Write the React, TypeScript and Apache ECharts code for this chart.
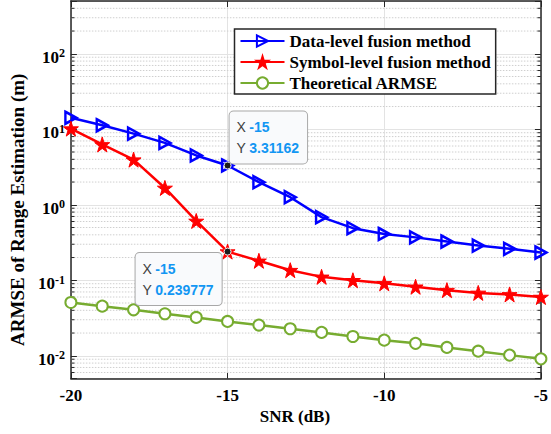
import React, { useEffect, useRef } from 'react';
import * as echarts from 'echarts';

const snr = [-20, -19, -18, -17, -16, -15, -14, -13, -12, -11, -10, -9, -8, -7, -6, -5];
const dataLevel = [14.2, 11.3, 8.75, 6.6, 4.5, 3.31162, 1.99, 1.26, 0.685, 0.49, 0.41, 0.37, 0.326, 0.288, 0.261, 0.233];
const symbolLevel = [10.2, 6.3, 3.96, 1.67, 0.61, 0.239777, 0.181, 0.136, 0.111, 0.1, 0.091, 0.082, 0.074, 0.068, 0.065, 0.06];
const theoretical = [0.0508, 0.0454, 0.0406, 0.036, 0.0322, 0.0285, 0.0255, 0.0228, 0.0204, 0.018, 0.0161, 0.0146, 0.0129, 0.0115, 0.0102, 0.0091];
const seriesNames = ['Data-level fusion method', 'Symbol-level fusion method', 'Theoretical ARMSE'];
const xTicks = { min: -20, max: -5, interval: 5 };
const yRange = { min: 0.005, max: 500 };
const minorTicks = [
  0.006, 0.007, 0.008, 0.009,
  0.02, 0.03, 0.04, 0.05, 0.06, 0.07, 0.08, 0.09,
  0.2, 0.3, 0.4, 0.5, 0.6, 0.7, 0.8, 0.9,
  2, 3, 4, 5, 6, 7, 8, 9,
  20, 30, 40, 50, 60, 70, 80, 90,
  200, 300, 400,
];
const tipIndex = 5;

const SERIF = "'Liberation Serif', 'Times New Roman', serif";
const SANS = "'Liberation Sans', Arial, sans-serif";
const AX = '#262626';
const TRI = 'path://M0,0L10,6L0,12Z';
const STAR = 'path://M50,0L61.23,34.55L97.55,34.55L68.17,55.9L79.39,90.45L50,69.1L20.61,90.45L31.83,55.9L2.45,34.55L38.77,34.55Z';

function tipLabel(x: number, y: number, pos: number[]) {
  return {
    show: true,
    position: pos,
    align: 'left',
    verticalAlign: 'top',
    formatter: `{k|X} {v|${x}}\n{k|Y} {v|${y}}`,
    backgroundColor: '#F9FAFC',
    borderColor: '#A8A8A8',
    borderWidth: 1,
    borderRadius: 4,
    padding: [5, 8, 5, 7],
    rich: {
      k: { fontFamily: SANS, fontSize: 14, color: '#404040', lineHeight: 21 },
      v: { fontFamily: SANS, fontSize: 14, fontWeight: 'bold', color: '#1296F3', lineHeight: 21 },
    },
  };
}

export default function App() {
  const ref = useRef<HTMLDivElement>(null);
  useEffect(() => {
    document.body.style.margin = '0';
    const chart = echarts.init(ref.current!, null, { renderer: 'svg' });
    const axisLabelY = {
      margin: 6,
      padding: [7, 0, 0, 0],
      formatter: (v: number) => {
        const l = Math.log10(v);
        const e = Math.round(l);
        if (Math.abs(l - e) > 1e-6) return '';
        return `{b|10}{s|${e}}`;
      },
      rich: {
        b: { fontFamily: SERIF, fontWeight: 'bold', fontSize: 17, color: '#000', lineHeight: 20 },
        s: { fontFamily: SERIF, fontWeight: 'bold', fontSize: 12, color: '#000', verticalAlign: 'top', lineHeight: 12 },
      },
    };
    chart.setOption({
      animation: false,
      backgroundColor: '#fff',
      grid: { left: 66, right: 5.5, top: 1, bottom: 55.5, containLabel: false },
      legend: {
        data: seriesNames,
        orient: 'vertical',
        left: 234.5,
        top: 29,
        padding: [3, 5, 2, 5],
        itemWidth: 44,
        itemHeight: 14,
        itemGap: 3,
        itemTextGap: 4,
        backgroundColor: '#fff',
        borderColor: AX,
        borderWidth: 1.5,
        borderRadius: 0,
        textStyle: { fontFamily: SERIF, fontWeight: 'bold', fontSize: 17, color: '#000', lineHeight: 18 },
      },
      xAxis: [
        {
          type: 'value',
          min: xTicks.min,
          max: xTicks.max,
          interval: xTicks.interval,
          name: 'SNR (dB)',
          nameLocation: 'middle',
          nameGap: 27,
          nameTextStyle: { fontFamily: SERIF, fontWeight: 'bold', fontSize: 17, color: '#000', padding: [0, 22, 0, 0] },
          axisLine: { show: true, onZero: false, lineStyle: { color: AX, width: 1.5 } },
          axisTick: { show: true, inside: true, length: 6, lineStyle: { color: AX, width: 1 } },
          axisLabel: { margin: 8, fontFamily: SERIF, fontWeight: 'bold', fontSize: 17, color: '#000' },
          splitLine: { show: true, lineStyle: { color: '#E3E3E3', width: 1 } },
        },
        {
          type: 'value',
          position: 'top',
          min: xTicks.min,
          max: xTicks.max,
          interval: xTicks.interval,
          axisLine: { show: true, onZero: false, lineStyle: { color: AX, width: 1.5 } },
          axisTick: { show: true, inside: true, length: 6, lineStyle: { color: AX, width: 1 } },
          axisLabel: { show: false },
          splitLine: { show: false },
        },
      ],
      yAxis: [
        {
          type: 'log',
          logBase: 10,
          min: yRange.min,
          max: yRange.max,
          name: 'ARMSE of Range Estimation (m)',
          nameLocation: 'middle',
          nameGap: 43,
          nameTextStyle: { fontFamily: SERIF, fontWeight: 'bold', fontSize: 19, color: '#000', padding: [0, 40, 0, 0] },
          axisLine: { show: true, onZero: false, lineStyle: { color: AX, width: 1.5 } },
          axisTick: { show: true, inside: true, length: 6, lineStyle: { color: AX, width: 1 } },
          axisLabel: axisLabelY,
          splitLine: { show: true, lineStyle: { color: '#E3E3E3', width: 1 } },
        },
        {
          type: 'log',
          logBase: 10,
          position: 'right',
          min: yRange.min,
          max: yRange.max,
          axisLine: { show: true, onZero: false, lineStyle: { color: AX, width: 1.5 } },
          axisTick: { show: true, inside: true, length: 6, lineStyle: { color: AX, width: 1 } },
          axisLabel: { show: false },
          splitLine: { show: false },
        },
      ],
      series: [
        {
          type: 'custom',
          name: 'minor',
          silent: true,
          z: 1,
          xAxisIndex: 0,
          yAxisIndex: 0,
          data: minorTicks.map((v) => [xTicks.min, v]),
          renderItem: (params: any, api: any) => {
            const v = api.value(1);
            const p1 = api.coord([xTicks.min, v]);
            const p2 = api.coord([xTicks.max, v]);
            return {
              type: 'group',
              children: [
                { type: 'line', shape: { x1: p1[0], y1: p1[1], x2: p2[0], y2: p2[1] }, style: { stroke: '#CFCFCF', lineWidth: 1, lineDash: [1.5, 1.5] } },
                { type: 'line', shape: { x1: p1[0], y1: p1[1], x2: p1[0] + 3.5, y2: p1[1] }, style: { stroke: AX, lineWidth: 1 } },
                { type: 'line', shape: { x1: p2[0] - 3.5, y1: p2[1], x2: p2[0], y2: p2[1] }, style: { stroke: AX, lineWidth: 1 } },
              ],
            };
          },
        },
        {
          type: 'line',
          name: seriesNames[0],
          data: snr.map((x, i) => [x, dataLevel[i]]),
          symbol: TRI,
          symbolSize: [11, 12],
          lineStyle: { color: '#0000FF', width: 2.5 },
          itemStyle: { color: 'rgba(255,255,255,0)', borderColor: '#0000FF', borderWidth: 2.5 },
          z: 3,
          markPoint: {
            symbol: 'circle',
            symbolSize: 7,
            itemStyle: { color: '#1a1a1a', borderColor: '#fff', borderWidth: 1 },
            data: [{ coord: [snr[tipIndex], dataLevel[tipIndex]] }],
            label: { ...tipLabel(snr[tipIndex], dataLevel[tipIndex], [6, 2]), verticalAlign: 'bottom' },
          },
        },
        {
          type: 'line',
          name: seriesNames[1],
          data: snr.map((x, i) => [x, symbolLevel[i]]),
          symbol: STAR,
          symbolSize: 15,
          lineStyle: { color: '#FF0000', width: 2.5 },
          itemStyle: { color: '#FF0000', borderColor: '#FF0000', borderWidth: 1 },
          z: 3,
          markPoint: {
            symbol: 'circle',
            symbolSize: 7,
            itemStyle: { color: '#1a1a1a', borderColor: '#fff', borderWidth: 1 },
            data: [{ coord: [snr[tipIndex], symbolLevel[tipIndex]] }],
            label: tipLabel(snr[tipIndex], symbolLevel[tipIndex], [-88, 5.5]),
          },
        },
        {
          type: 'line',
          name: seriesNames[2],
          data: snr.map((x, i) => [x, theoretical[i]]),
          symbol: 'emptyCircle',
          symbolSize: 11,
          lineStyle: { color: '#77AC30', width: 2.5 },
          itemStyle: { color: '#77AC30', borderColor: '#77AC30', borderWidth: 2.5 },
          z: 3,
        },
      ],
    });
    return () => chart.dispose();
  }, []);
  return <div ref={ref} style={{ width: 551, height: 434 }} />;
}
